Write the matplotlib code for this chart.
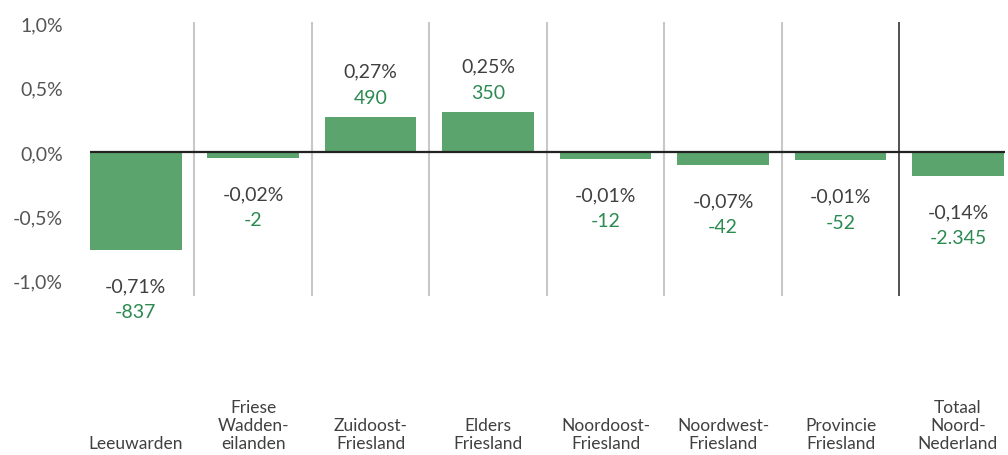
import matplotlib.pyplot as plt
from matplotlib.transforms import blended_transform_factory

plt.rcParams['font.family'] = ['Lato', 'DejaVu Sans']

# Data
categories = [
    "Leeuwarden",
    "Friese\nWadden-\neilanden",
    "Zuidoost-\nFriesland",
    "Elders\nFriesland",
    "Noordoost-\nFriesland",
    "Noordwest-\nFriesland",
    "Provincie\nFriesland",
    "Totaal\nNoord-\nNederland",
]
bar_values = [-0.76, -0.045, 0.27, 0.31, -0.055, -0.10, -0.063, -0.185]
pct_labels = ["-0,71%", "-0,02%", "0,27%", "0,25%", "-0,01%", "-0,07%", "-0,01%", "-0,14%"]
count_labels = ["-837", "-2", "490", "350", "-12", "-42", "-52", "-2.345"]
yticks = [-1.0, -0.5, 0.0, 0.5, 1.0]
ytick_labels = ["-1,0%", "-0,5%", "0,0%", "0,5%", "1,0%"]

bar_color = "#5ba46d"
num_color = "#2b8a50"
text_color = "#404040"

fig = plt.figure(figsize=(10.08, 4.56), dpi=100)
ax = fig.add_axes([0.0764, 0.3487, 0.9206, 0.6009])

x = list(range(len(categories)))
ax.bar(x, bar_values, width=0.78, color=bar_color, zorder=2)

ax.set_xlim(-0.5, 7.4)
ax.set_ylim(-1.12, 1.01)

# separators between categories
for i in range(len(categories) - 1):
    if i == 6:
        ax.axvline(i + 0.5, color="#333333", lw=1.2, zorder=1)
    else:
        ax.axvline(i + 0.5, color="#c8c8c8", lw=1.5, zorder=1)

# zero line
ax.hlines(0, -0.39, 7.4, color="#222222", lw=1.6, zorder=3)

for s in ax.spines.values():
    s.set_visible(False)
ax.set_xticks([])
ax.set_yticks(yticks)
ax.set_yticklabels(ytick_labels, fontsize=14, color="#555555")
ax.tick_params(axis="y", length=0, pad=10)

# value labels
for xi, v, p, c in zip(x, bar_values, pct_labels, count_labels):
    if v >= 0:
        ax.annotate(p, (xi, v), xytext=(0, 46), textcoords="offset pixels",
                    ha="center", va="center", fontsize=14, color=text_color)
        ax.annotate(c, (xi, v), xytext=(0, 20), textcoords="offset pixels",
                    ha="center", va="center", fontsize=14, color=num_color)
    else:
        ax.annotate(p, (xi, v), xytext=(0, -36), textcoords="offset pixels",
                    ha="center", va="center", fontsize=14, color=text_color)
        ax.annotate(c, (xi, v), xytext=(0, -62), textcoords="offset pixels",
                    ha="center", va="center", fontsize=14, color=num_color)

# category labels at the bottom of the figure
trans = blended_transform_factory(ax.transData, fig.transFigure)
for xi, name in zip(x, categories):
    ax.text(xi, 0.008, name, transform=trans, ha="center", va="bottom",
            fontsize=12.5, color=text_color, linespacing=1.15, clip_on=False)

fig.savefig("out.png", dpi=100)
